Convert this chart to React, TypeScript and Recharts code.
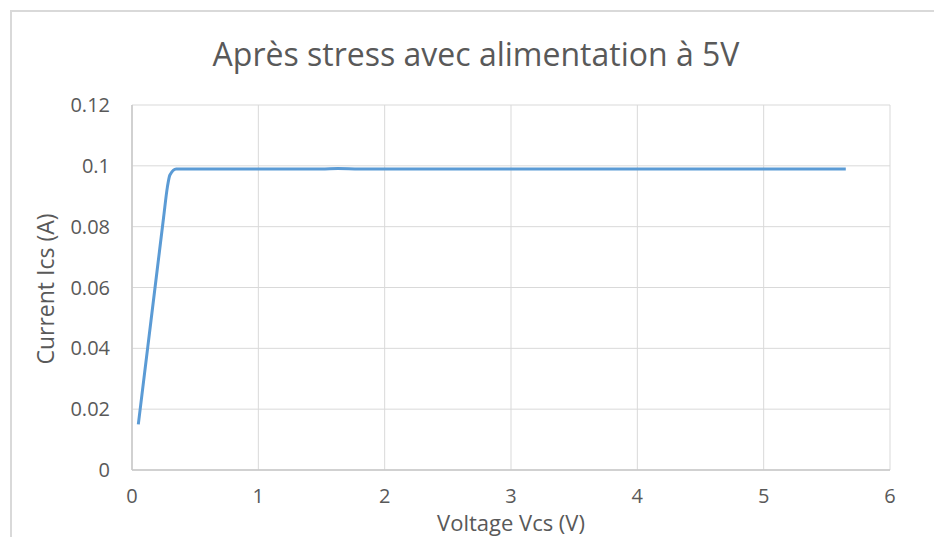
import { LineChart, Line, XAxis, YAxis, CartesianGrid } from 'recharts';

// Ics vs Vcs measurements, post-stress, 5 V supply
const voltage = [0.05, 0.1, 0.15, 0.2, 0.25, 0.28, 0.3, 0.35, 0.4, 0.6, 1.0, 1.5, 1.63, 1.8, 2.5, 3.0, 3.5, 4.0, 4.5, 5.0, 5.65];
const current = [0.015, 0.032, 0.049, 0.066, 0.083, 0.093, 0.097, 0.099, 0.099, 0.099, 0.099, 0.099, 0.09915, 0.099, 0.099, 0.099, 0.099, 0.099, 0.099, 0.099, 0.099];

const xTicks = [0, 1, 2, 3, 4, 5, 6];
const yTicks = [0, 0.02, 0.04, 0.06, 0.08, 0.1, 0.12];

const data = voltage.map((v, i) => ({ v, i: current[i] }));

const font = '"Open Sans", sans-serif';
const textColor = '#595959';

const App = () => {
  return (
    <div style={{ position: 'absolute', left: 0, top: 0, width: 934, height: 537, background: '#fff', overflow: 'hidden', fontFamily: font }}>
      <div style={{ position: 'absolute', left: 10, top: 10, width: 960, height: 560, borderTop: '2px solid #d9d9d9', borderLeft: '2px solid #d9d9d9' }} />
      <div style={{ position: 'absolute', left: 0, top: 32, width: 952, textAlign: 'center', fontSize: 32, color: textColor, whiteSpace: 'nowrap' }}>
        Après stress avec alimentation à 5V
      </div>
      <LineChart width={934} height={537} data={data} margin={{ top: 105, right: 44, bottom: 27, left: 32 }} style={{ position: 'absolute', left: 0, top: 0 }}>
        <CartesianGrid stroke="#d9d9d9" strokeWidth={1} horizontalValues={yTicks} verticalValues={xTicks} />
        <XAxis
          dataKey="v"
          type="number"
          domain={[0, 6]}
          ticks={xTicks}
          height={40}
          tickLine={false}
          tickSize={0}
          tickMargin={19}
          axisLine={{ stroke: '#c8c8c8', strokeWidth: 1.5 }}
          tick={{ fill: textColor, fontSize: 20, fontFamily: font }}
        />
        <YAxis
          type="number"
          domain={[0, 0.12]}
          ticks={yTicks}
          width={100}
          tickLine={false}
          tickSize={0}
          tickMargin={22}
          axisLine={{ stroke: '#c8c8c8', strokeWidth: 1.5 }}
          tick={{ fill: textColor, fontSize: 20, fontFamily: font }}
        />
        <Line type="monotone" dataKey="i" stroke="#5b9bd5" strokeWidth={3} dot={false} isAnimationActive={false} />
      </LineChart>
      <div style={{ position: 'absolute', left: 411, top: 510, width: 200, textAlign: 'center', fontSize: 22, lineHeight: '25px', color: textColor, whiteSpace: 'nowrap' }}>
        Voltage Vcs (V)
      </div>
      <div style={{ position: 'absolute', left: 45, top: 289, width: 0, height: 0 }}>
        <div style={{ position: 'absolute', left: -100, top: -16, width: 200, textAlign: 'center', fontSize: 23, color: textColor, whiteSpace: 'nowrap', transform: 'rotate(-90deg)' }}>
          Current Ics (A)
        </div>
      </div>
    </div>
  );
};

export default App;
